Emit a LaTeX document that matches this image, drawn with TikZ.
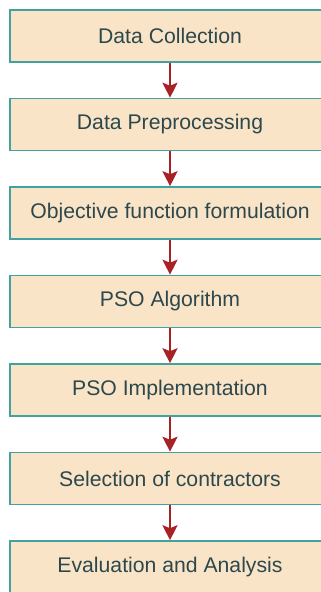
\documentclass[tikz,border=0pt]{standalone}
\usepackage{fontspec}
\setmainfont{Liberation Sans}
\usetikzlibrary{arrows.meta}
\definecolor{boxfill}{HTML}{FAE4C8}
\definecolor{boxline}{HTML}{42A2A0}
\definecolor{boxtext}{HTML}{2C484C}
\definecolor{arrowred}{HTML}{A82124}
\tikzset{
  stage/.style={draw=boxline,line width=1.6pt,fill=boxfill,text=boxtext,
    minimum width=320pt,minimum height=52pt,inner sep=0pt,
    font=\fontsize{21.2}{24}\selectfont},
  flow/.style={draw=arrowred,line width=1.8pt,
    -{Stealth[length=15pt,width=15pt,inset=3pt]}}
}
\begin{document}
\begin{tikzpicture}[x=1pt,y=1pt]
\useasboundingbox (0,0) rectangle (321,-592);
\clip (0,0) rectangle (321,-592);
% steps of the method, top to bottom
\foreach \txt [count=\i] in {Data Collection,Data Preprocessing,Objective function formulation,
  PSO Algorithm,PSO Implementation,Selection of contractors,Evaluation and Analysis}
  \node[stage] (s\i) at (170,{-36-88.5*(\i-1)}) {\txt};
\foreach \i [evaluate=\i as \j using int(\i+1)] in {1,...,6}
  \draw[flow] (s\i.south) -- (s\j.north);
\end{tikzpicture}
\end{document}
